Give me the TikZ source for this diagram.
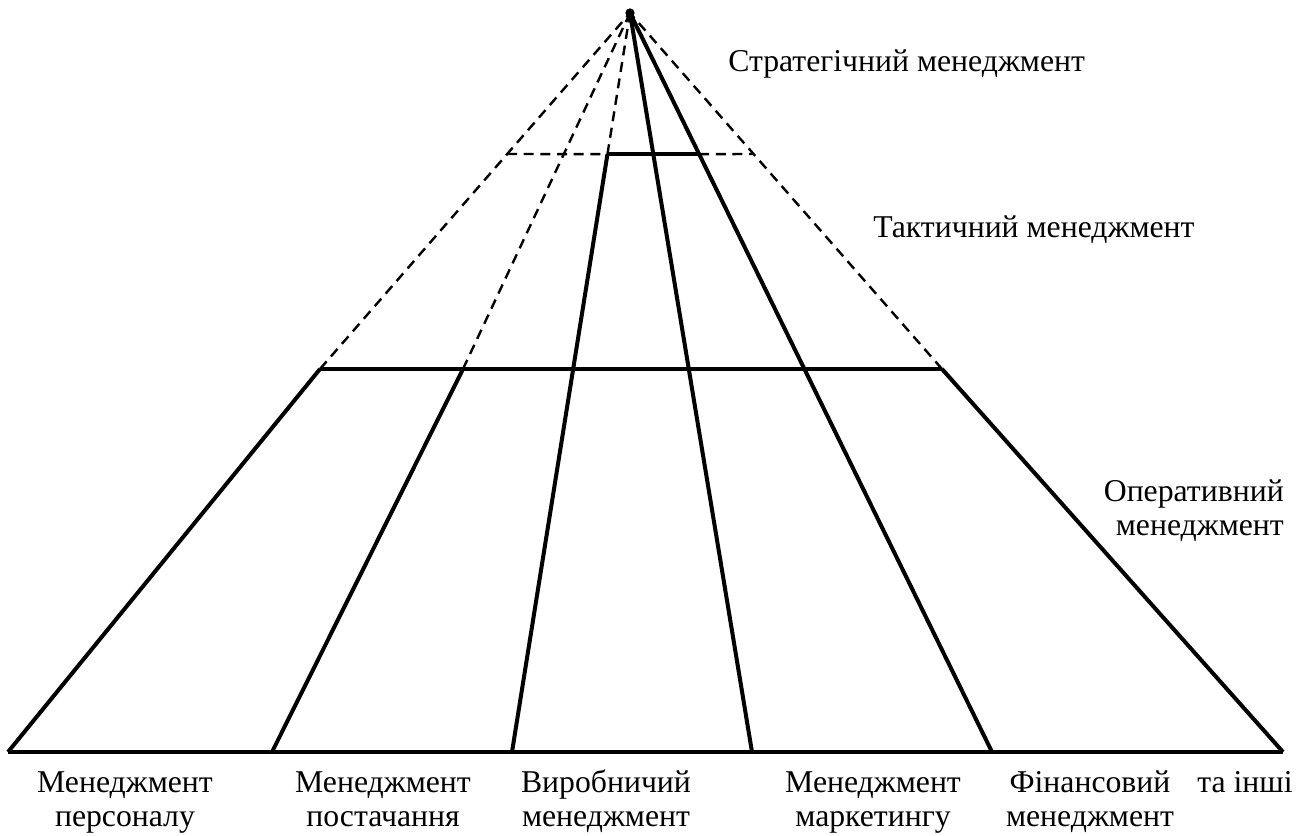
\documentclass[tikz,border=0pt]{standalone}
\usepackage{fontspec}
\setmainfont{Liberation Serif}
\usetikzlibrary{calc,positioning}

\tikzset{
  solidline/.style={line width=3pt},
  dashline/.style={line width=1.8pt, dash pattern=on 7.5pt off 5pt},
  label/.style={font=\fontsize{23.8}{25.5}\selectfont, align=center, inner sep=0pt}
}

\begin{document}
\begin{tikzpicture}[x=0.75pt, y=-0.75pt]
    \useasboundingbox (0,0) rectangle (1305,835);
    % apex and base
    \coordinate (apex) at (630,13);
    \coordinate (b0) at (8,752);
    \coordinate (b1) at (272,752);
    \coordinate (b2) at (512,752);
    \coordinate (b3) at (752,752);
    \coordinate (b4) at (992,752);
    \coordinate (b5) at (1283,752);
    % tactical level
    \coordinate (m0) at (320,369);
    \coordinate (m1) at (463,369);
    \coordinate (m5) at (942,369);
    % strategic level
    \coordinate (u0) at (507,154);
    \coordinate (u2) at ($(b2)!0.809!(apex)$);
    \coordinate (u4) at ($(b4)!0.809!(apex)$);
    \coordinate (u5) at (753,154);

    \draw[solidline] (b0) -- (b5);
    \draw[solidline] (m0) -- (m5);
    \draw[solidline] (u2) -- (u4);
    \draw[dashline] (u0) -- (u2);
    \draw[dashline] (u4) -- (u5);

    \draw[solidline] (b0) -- (m0);
    \draw[solidline] (b1) -- (m1);
    \draw[solidline] (b2) -- (u2);
    \draw[solidline] (b3) -- (apex);
    \draw[solidline] (b4) -- (apex);
    \draw[solidline] (b5) -- (m5);
    \draw[dashline] (m0) -- (apex);
    \draw[dashline] (m1) -- (apex);
    \draw[dashline] (u2) -- (apex);
    \draw[dashline] (m5) -- (apex);
    \fill (apex) circle (3.5pt);

    % levels
    \node[label, anchor=west] (strat) at (728,64) {Стратегічний менеджмент};
    \node[label, anchor=west] (tact) at (873,230) {Тактичний менеджмент};
    \node[label, anchor=north east, align=right] (oper) at (1284,477) {\strut Оперативний\\\strut менеджмент};

    % functions
    \node[label, anchor=north] (personal) at (125,768) {\strut Менеджмент\\\strut персоналу};
    \node[label, anchor=north] (supply) at (383,768) {\strut Менеджмент\\\strut постачання};
    \node[label, anchor=north] (product) at (606,768) {\strut Виробничий\\\strut менеджмент};
    \node[label, anchor=north] (market) at (873,768) {\strut Менеджмент\\\strut маркетингу};
    \node[label, anchor=north] (finance) at (1090,768) {\strut Фінансовий\\\strut менеджмент};
    \node[label, anchor=north] (other) at (1245,768) {\strut та інші};
\end{tikzpicture}
\end{document}
